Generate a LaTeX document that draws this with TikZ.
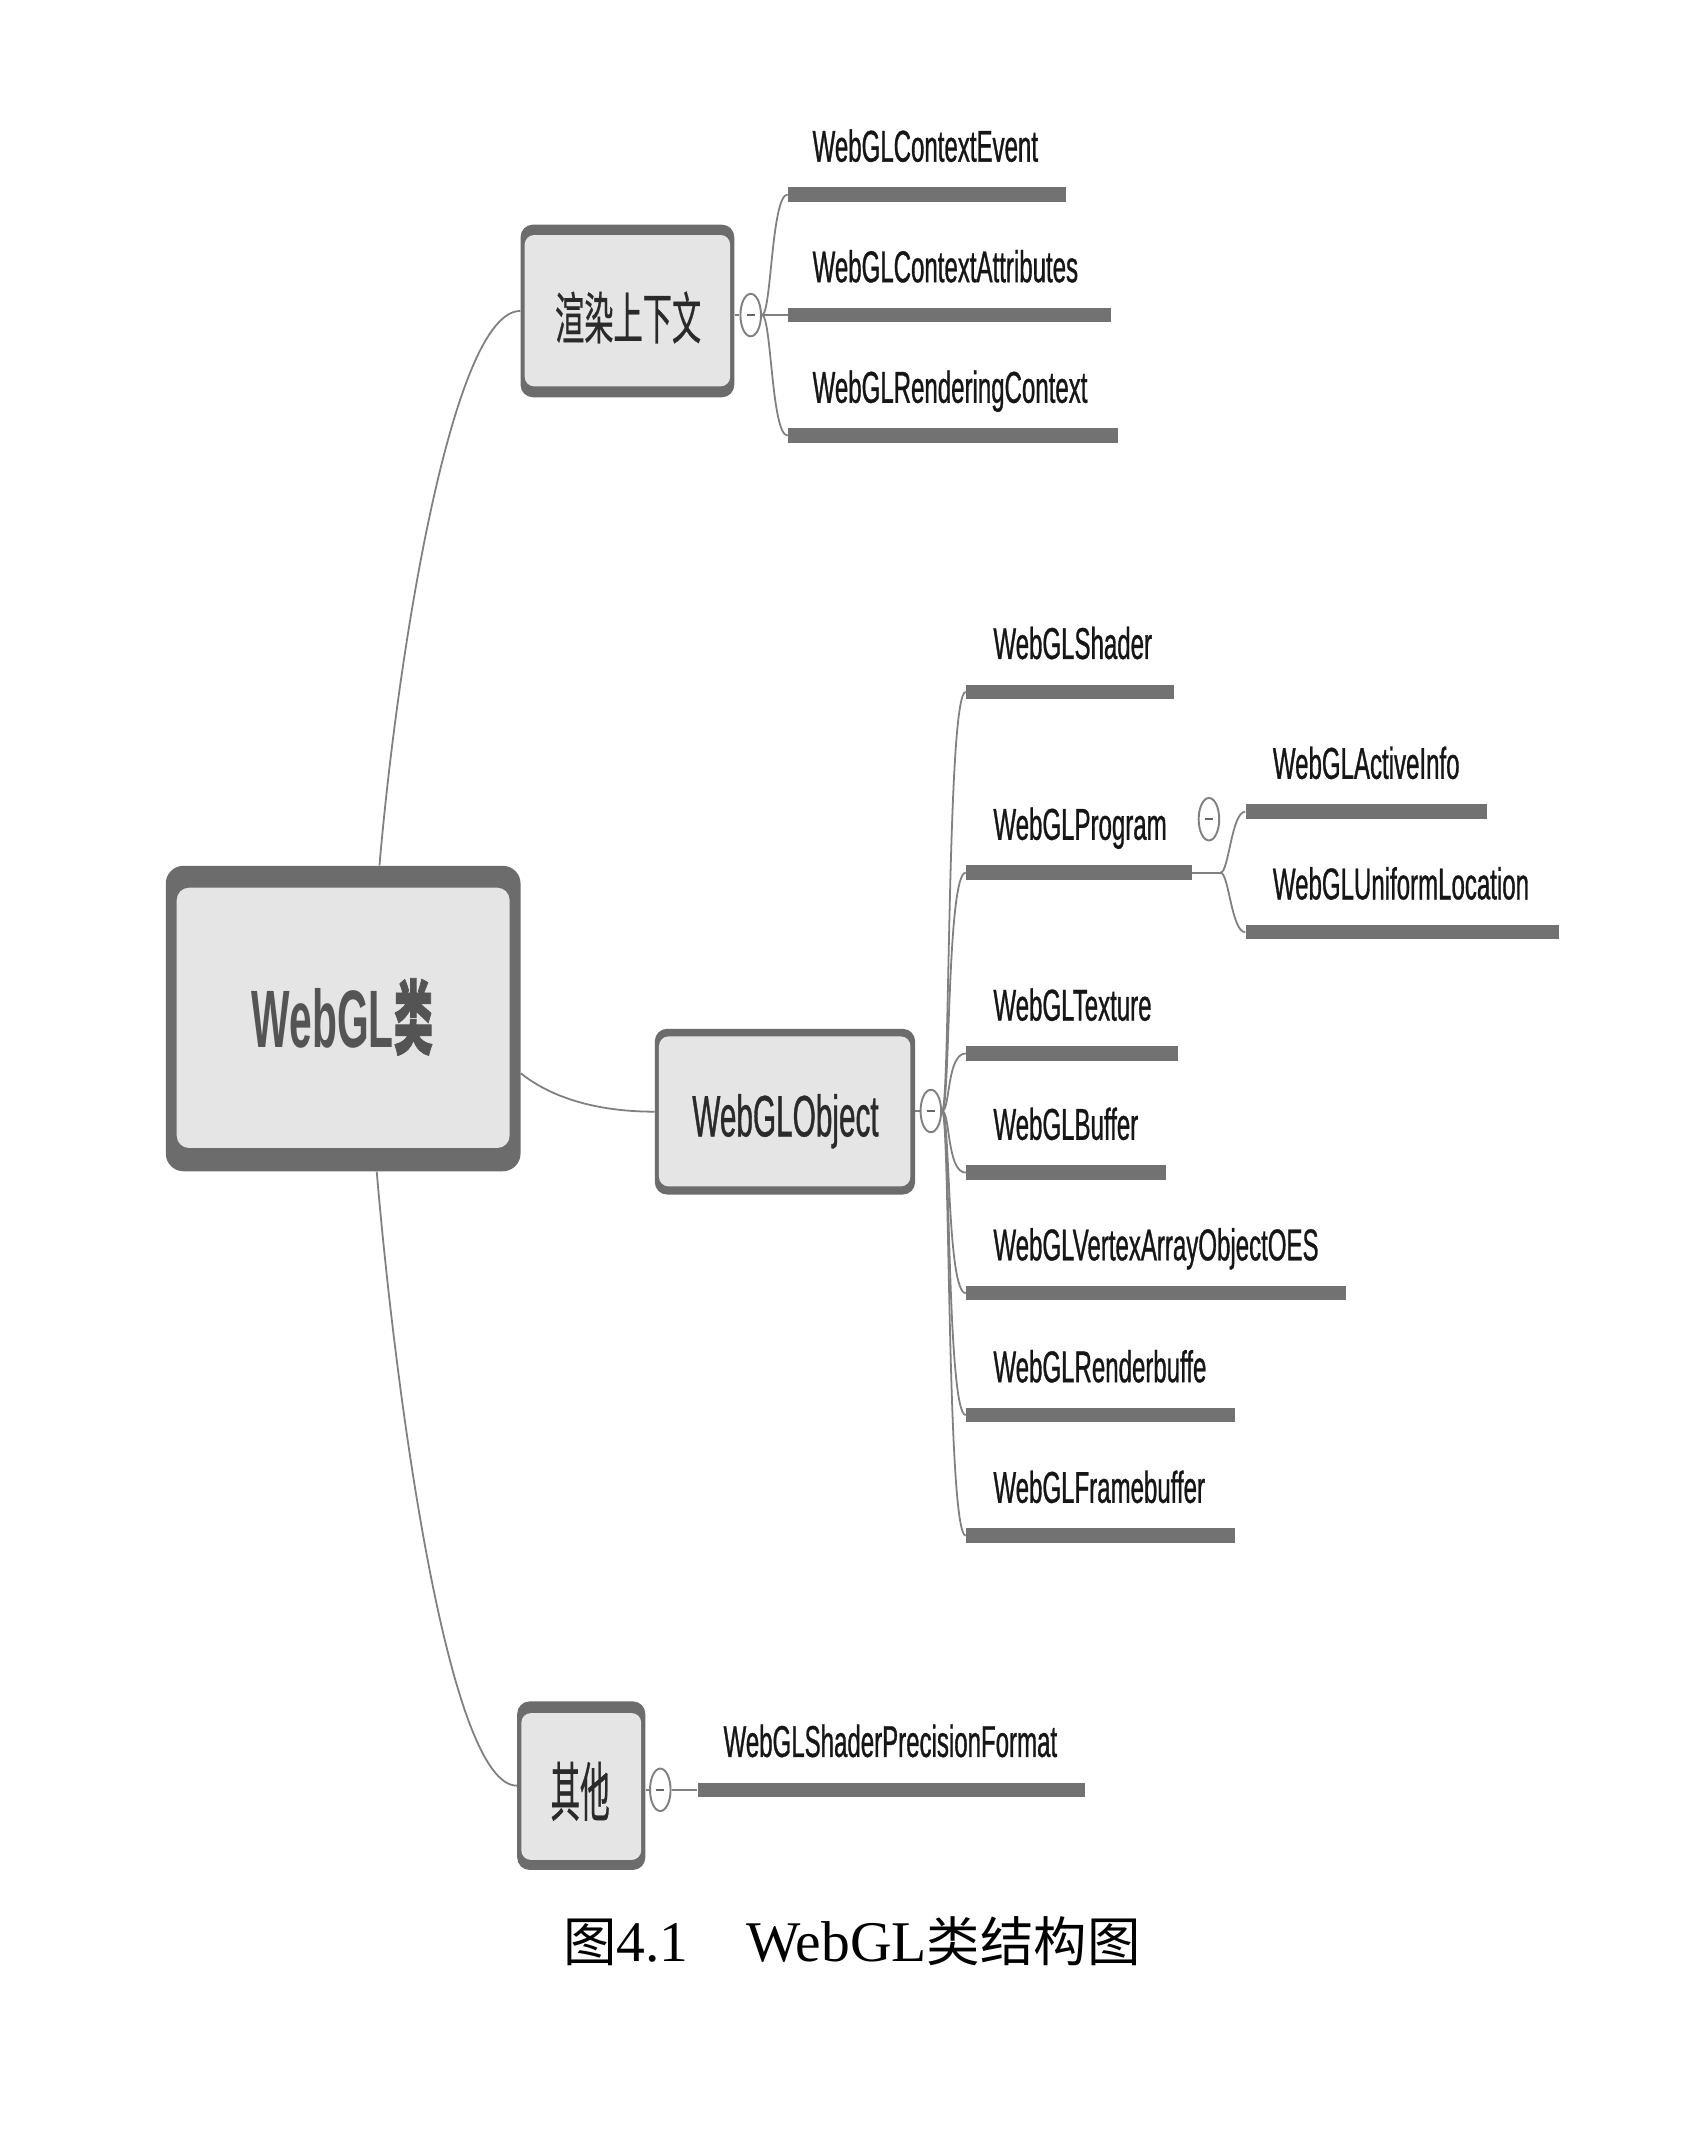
\documentclass[tikz,border=0pt]{standalone}
\usepackage{fontspec}
\setmainfont{Liberation Serif}
\newfontfamily\leaffont[FakeStretch=0.54,FakeBold=0.7]{Liberation Sans}
\newfontfamily\objfont[FakeStretch=0.51,FakeBold=0.6]{Liberation Sans}
\newfontfamily\rootfont[FakeStretch=0.5]{Liberation Sans}
\newfontfamily\rootcjk[FakeStretch=0.48,FakeBold=0.9]{Noto Sans CJK SC}
\newfontfamily\ctxcjk[FakeStretch=0.52,FakeBold=0.4]{Noto Sans CJK SC}
\newfontfamily\othcjk[FakeStretch=0.46,FakeBold=0.4]{Noto Sans CJK SC}
\newfontfamily\capcjk{Noto Sans CJK SC}
\usetikzlibrary{shapes.geometric}

\definecolor{boxfill}{HTML}{E5E5E5}
\definecolor{boxedge}{HTML}{6C6C6C}
\definecolor{barcol}{HTML}{727272}
\definecolor{wire}{HTML}{808080}
\definecolor{ink}{HTML}{161616}
\definecolor{rootink}{HTML}{545454}
\definecolor{midink}{HTML}{2A2A2A}
\definecolor{dashcol}{HTML}{666666}

\tikzset{
  wire/.style={draw=wire, line width=1.3pt},
  shell/.style={rectangle, rounded corners=#1, fill=boxedge, inner sep=0pt},
  face/.style={rectangle, rounded corners=#1, fill=boxfill, inner sep=0pt},
  bar/.style={rectangle, fill=barcol, inner sep=0pt, minimum height=10.5pt,
    anchor=west, minimum width=#1},
  leaf/.style={anchor=base west, inner sep=0pt, text=ink,
    font=\leaffont\fontsize{32.5}{36}\selectfont},
  toggle/.style={ellipse, draw=wire, fill=white, line width=1.4pt,
    minimum width=15pt, minimum height=31pt, inner sep=0pt,
    path picture={\draw[dashcol, line width=1.6pt]
      ([xshift=-3pt]path picture bounding box.center) --
      ([xshift=3pt]path picture bounding box.center);}},
}

\begin{document}
\begin{tikzpicture}[x=1pt, y=-1pt]
\useasboundingbox (0,0) rectangle (1242,1568);
\fill[white] (0,0) rectangle (1242,1568);

% ---- central topic ----
\node[shell=13pt, minimum width=259pt, minimum height=223pt] (root) at (250.5,743.5) {};
\node[face=9pt, minimum width=243pt, minimum height=190pt] (root-in) at (250.5,743) {};
\node[anchor=base, inner sep=0pt, text=rootink,
  font=\rootfont\bfseries\fontsize{59.5}{64}\selectfont] (root-t) at (250,765)
  {WebGL{\rootcjk 类}};

% ---- rendering context branch ----
\node[shell=9pt, minimum width=156pt, minimum height=126pt] (ctx) at (458,227) {};
\node[face=7pt, minimum width=150pt, minimum height=110.5pt] (ctx-in) at (458,226.8) {};
\node[anchor=base, inner sep=0pt, text=midink,
  font=\ctxcjk\fontsize{41}{46}\selectfont] (ctx-t) at (458.5,247.5) {渲染上下文};
\node[toggle] (c1) at (548,230) {};

\node[bar=203pt] (b11) at (575,142) {};
\node[bar=236pt] (b12) at (575,230) {};
\node[bar=241pt] (b13) at (575,318) {};
\node[leaf] (t11) at (593,118) {WebGLContextEvent};
\node[leaf] (t12) at (593,206) {WebGLContextAttributes};
\node[leaf] (t13) at (593,294) {WebGLRenderingContext};

% ---- WebGLObject branch ----
\node[shell=9pt, minimum width=190pt, minimum height=121pt] (obj) at (573,811.5) {};
\node[face=7pt, minimum width=183.5pt, minimum height=109.5pt] (obj-in) at (572.8,811.3) {};
\node[anchor=base, inner sep=0pt, text=midink,
  font=\objfont\fontsize{42.6}{48}\selectfont] (obj-t) at (573.4,829.5) {WebGLObject};
\node[toggle] (c2) at (679.5,811) {};

\node[bar=152pt] (b21) at (705,505) {};
\node[bar=165pt] (b22) at (705,637) {};
\node[bar=155pt] (b23) at (705,769) {};
\node[bar=146pt] (b24) at (705,856) {};
\node[bar=277pt] (b25) at (705,944) {};
\node[bar=196pt] (b26) at (705,1033) {};
\node[bar=196pt] (b27) at (705,1121) {};
\node[leaf] (t21) at (725,481) {WebGLShader};
\node[leaf] (t22) at (725,613) {WebGLProgram};
\node[leaf] (t23) at (725,745) {WebGLTexture};
\node[leaf] (t24) at (725,832) {WebGLBuffer};
\node[leaf] (t25) at (725,920) {WebGLVertexArrayObjectOES};
\node[leaf] (t26) at (725,1009) {WebGLRenderbuffe};
\node[leaf] (t27) at (725,1097) {WebGLFramebuffer};

% WebGLProgram sub-branch
\node[toggle] (c3) at (882.5,598) {};
\coordinate (pj) at (891,637);
\node[bar=176pt] (b31) at (909,592.5) {};
\node[bar=229pt] (b32) at (909,680.5) {};
\node[leaf] (t31) at (929,568.5) {WebGLActiveInfo};
\node[leaf] (t32) at (929,656.5) {WebGLUniformLocation};

% ---- other branch ----
\node[shell=9pt, minimum width=93.5pt, minimum height=123pt] (other) at (424.3,1303.5) {};
\node[face=7pt, minimum width=87.5pt, minimum height=107.2pt] (other-in) at (424.3,1304.1) {};
\node[anchor=base, inner sep=0pt, text=midink,
  font=\othcjk\fontsize{47}{52}\selectfont] (other-t) at (423.5,1325.5) {其他};
\node[toggle] (c4) at (482,1306.5) {};
\node[bar=283pt] (b41) at (509,1306.5) {};
\node[leaf] (t41) at (528,1282.5) {WebGLShaderPrecisionFormat};

% ---- connectors ----
\draw[wire] ([xshift=26.5pt]root.north) .. controls +(13,-152) and +(-50,0) .. (ctx.west);
\draw[wire] ([yshift=-40pt]root.east) .. controls +(15,12) and +(-53,0) .. (obj.west);
\draw[wire] ([xshift=24.5pt]root.south) .. controls +(14,165) and +(-50,0) .. (other.west);

\draw[wire] (c1.west -| ctx.east) -- (c1.west);
\foreach \b in {b11,b12,b13}
  \draw[wire] (c1.east) .. controls +(7,0) and +(-12,0) .. (\b.west);

\draw[wire] (c2.west -| obj.east) -- (c2.west);
\foreach \b in {b21,b22,b23,b24,b25,b26,b27}
  \draw[wire] (c2.east) .. controls +(6,0) and +(-14,0) .. (\b.west);

\draw[wire] (b22.east) -- (pj);
\foreach \b in {b31,b32}
  \draw[wire] (pj) .. controls +(6,0) and +(-10,0) .. (\b.west);

\draw[wire] (c4.west -| other.east) -- (c4.west);
\draw[wire] (c4.east) -- (b41.west);

% ---- caption ----
\node[anchor=base west, inner sep=0pt, text=black,
  font=\fontsize{42}{48}\selectfont] (cap) at (411,1432)
  {{\capcjk\fontsize{39}{48}\selectfont 图}4.1\hspace{42pt}WebGL{\capcjk\fontsize{39}{48}\selectfont 类结构图}};
\end{tikzpicture}
\end{document}
